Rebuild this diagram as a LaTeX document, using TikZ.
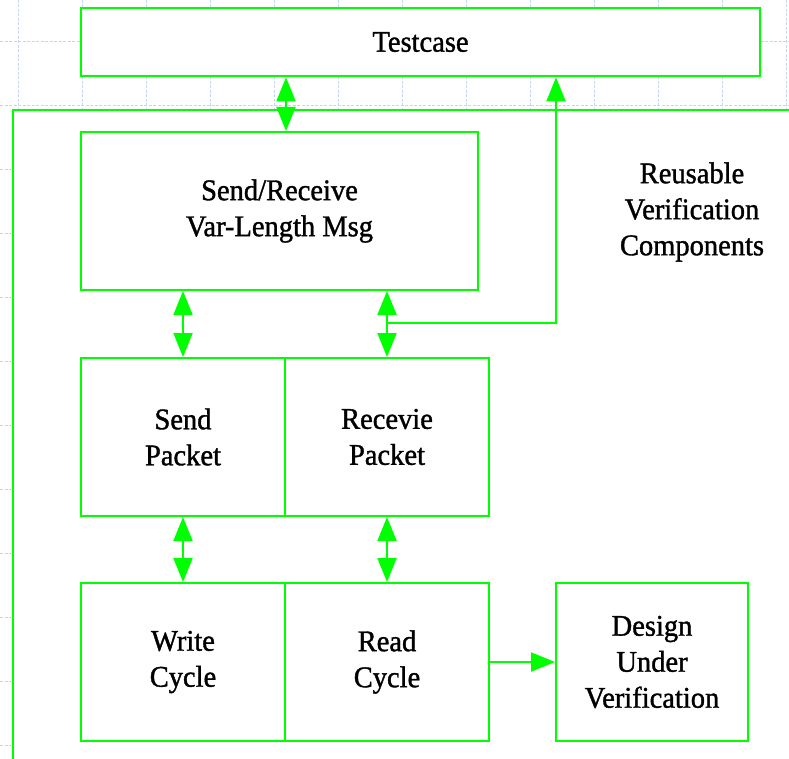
\documentclass[tikz,border=0pt]{standalone}
\usepackage{fontspec}
\setmainfont{Liberation Serif}
\newfontfamily\blockfont{Liberation Serif}[FakeStretch=0.95, FakeBold=1.2]
\usetikzlibrary{arrows.meta}
\definecolor{linegreen}{RGB}{0,255,0}
\definecolor{gridblue}{RGB}{200,212,245}
\tikzset{
  box/.style={draw=linegreen, line width=2pt, fill=white, align=center,
    inner sep=0pt, minimum height=158pt},
  label/.style={align=center, inner sep=0pt},
  link/.style={draw=linegreen, line width=2pt,
    -{Triangle[length=24pt,width=19pt]}},
  duplex/.style={draw=linegreen, line width=2pt,
    {Triangle[length=24pt,width=19pt]}-{Triangle[length=24pt,width=19pt]}},
  frameline/.style={draw=linegreen, line width=2.6pt},
  gridline/.style={draw=gridblue, line width=0.7pt, dash pattern=on 3pt off 1.5pt},
}
\begin{document}
\begin{tikzpicture}[x=1pt, y=-1pt,
  every node/.style={font=\blockfont\fontsize{30}{36}\selectfont}]
\useasboundingbox (0,0) rectangle (789,759);
% background grid
\foreach \gx in {18,82,...,786} \draw[gridline] (\gx,0) -- (\gx,759);
\foreach \gy in {41,105,...,759} \draw[gridline] (0,\gy) -- (789,\gy);
% white working area inside the frame
\fill[white] (13,110) rectangle (789,759);
% outer frame
\coordinate (fbot) at (13,759);
\coordinate (fcorner) at (13,110);
\coordinate (fright) at (789,110);
\draw[frameline] (fbot) -- (fcorner) -- (fright);
% blocks
\node[box, line width=2.6pt, minimum width=679pt, minimum height=68pt] (tc) at (420.5,42) {Testcase};
\node[box, minimum width=397pt] (sr) at (279.5,211) {Send/Receive\\Var-Length Msg};
\node[box, minimum width=204pt] (sp) at (183,437) {Send\\Packet};
\node[box, minimum width=204pt] (rp) at (387,437) {Recevie\\Packet};
\node[box, minimum width=204pt] (wc) at (183,662) {Write\\Cycle};
\node[box, minimum width=204pt] (rc) at (387,662) {Read\\Cycle};
\node[box, minimum width=192pt] (duv) at (652,662) {Design\\Under\\Verification};
\node[label] (reuse) at (692,212) {Reusable\\Verification\\Components};
% connectors
\draw[duplex] (tc.south -| sp.east) -- (sr.north -| sp.east);
\draw[duplex] (sr.south -| sp) -- (sp.north);
\draw[duplex] (sr.south -| rp) -- (rp.north);
\draw[duplex] (sp.south) -- (wc.north);
\draw[duplex] (rp.south) -- (rc.north);
\coordinate (tap) at (387,323);
\coordinate (bend) at (556,323);
\draw[link] (tap) -- (bend) -- (tc.south -| bend);
\draw[link] (rc.east) -- (duv.west);
\end{tikzpicture}
\end{document}
